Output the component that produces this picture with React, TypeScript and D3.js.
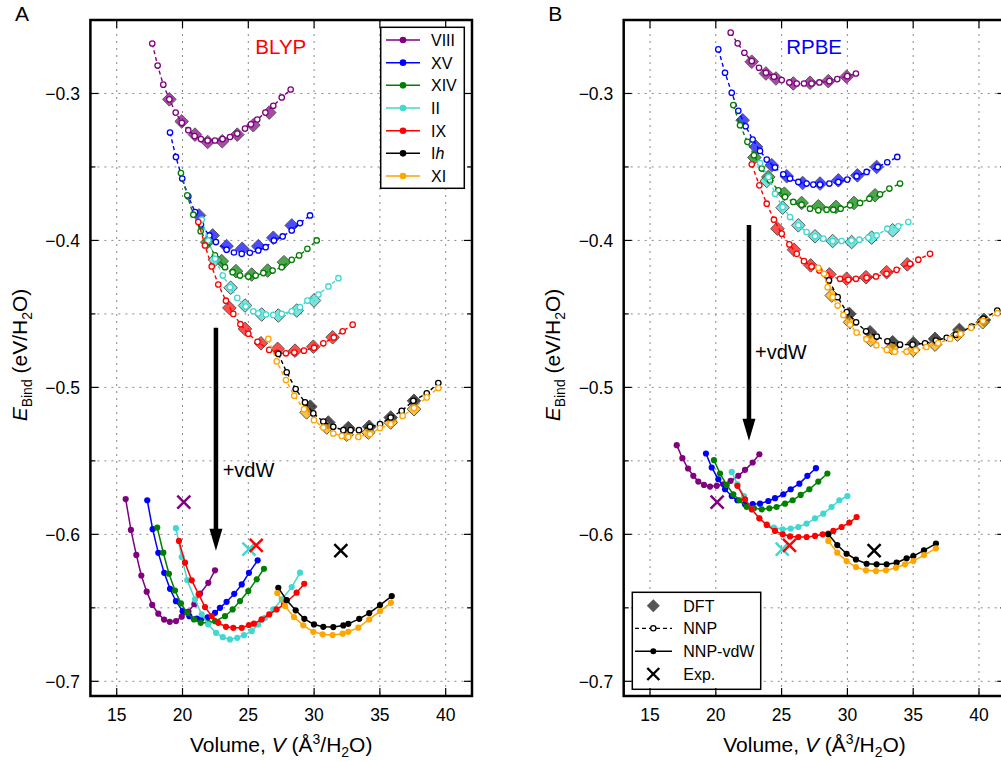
import React from 'react';
import * as d3 from 'd3';

type P = [number, number][];

const phases = ['VIII', 'XV', 'XIV', 'II', 'IX', 'Ih', 'XI'];
const phaseColors = ['#800080', '#0000ff', '#008000', '#40d8d0', '#ff0000', '#000000', '#ffa500'];
const xTickValues = [15, 20, 25, 30, 35, 40];
const yTickValues = [-0.7, -0.6, -0.5, -0.4, -0.3];
const yGridValues = [-0.7, -0.65, -0.6, -0.55, -0.5, -0.45, -0.4, -0.35, -0.3];

// Experimental values (same in both panels): [V, E]
const expVIII: P = [[20.1, -0.578]];
const expII: P = [[25.05, -0.610]];
const expIX: P = [[25.6, -0.6075]];
const expIh: P = [[32.03, -0.611]];

// ===== BLYP (panel A) =====
const blypDftVIII: P = [[19.0, -0.304], [19.94, -0.319], [20.95, -0.328], [21.91, -0.333], [23.02, -0.3325], [24.16, -0.328], [25.38, -0.3216], [26.59, -0.313]];
const blypDftXV: P = [[21.25, -0.383], [22.29, -0.3966], [23.35, -0.4039], [24.54, -0.4057], [25.76, -0.4039], [26.9, -0.3982], [28.3, -0.3898]];
const blypDftXIV: P = [[21.88, -0.4012], [22.98, -0.4141], [24.06, -0.4209], [25.26, -0.4232], [26.47, -0.4205], [27.71, -0.4148]];
const blypDftII: P = [[22.47, -0.4132], [23.66, -0.4322], [24.75, -0.4443], [26.02, -0.4504], [27.28, -0.4511], [28.68, -0.4477], [29.99, -0.4409]];
const blypDftIX: P = [[23.56, -0.4459], [24.75, -0.4602], [25.96, -0.47], [27.23, -0.4738], [28.55, -0.475], [29.94, -0.4723], [31.41, -0.4659]];
const blypDftIh: P = [[29.71, -0.5131], [31.08, -0.5239], [32.6, -0.5277], [34.19, -0.5268], [35.82, -0.5205], [37.59, -0.5091]];
const blypDftXI: P = [[29.43, -0.517], [30.96, -0.5273], [32.48, -0.5322], [34.12, -0.5307], [35.82, -0.5239], [37.59, -0.5148]];

const blypNnpVIII: P = [[17.7, -0.266], [18.11, -0.281], [18.54, -0.294], [19.0, -0.304], [19.48, -0.313], [19.95, -0.32], [20.44, -0.325], [20.92, -0.329], [21.4, -0.331], [21.91, -0.332], [22.47, -0.332], [23.04, -0.331], [23.61, -0.3296], [24.16, -0.3273], [24.75, -0.3239], [25.2, -0.321], [25.68, -0.3177], [26.3, -0.313], [26.9, -0.3084], [27.54, -0.3027], [28.22, -0.2973]];
const blypNnpXV: P = [[19.05, -0.3266], [19.5, -0.3432], [19.98, -0.3579], [20.44, -0.37], [20.95, -0.3807], [21.4, -0.3891], [22.04, -0.3966], [22.54, -0.4011], [23.35, -0.4063], [23.91, -0.4082], [24.5, -0.4091], [25.12, -0.4084], [25.76, -0.4068], [26.32, -0.4046], [26.95, -0.4], [27.61, -0.3973], [28.3, -0.3932], [28.93, -0.3882], [29.69, -0.383]];
const blypNnpXIV: P = [[19.88, -0.3541], [20.36, -0.3693], [20.82, -0.3825], [21.38, -0.3937], [21.91, -0.4012], [22.47, -0.4102], [23.23, -0.4182], [23.81, -0.4216], [24.37, -0.4239], [25.0, -0.4246], [25.56, -0.4239], [26.14, -0.4222], [26.85, -0.4205], [27.54, -0.4182], [28.3, -0.4132], [28.86, -0.4102], [29.49, -0.4057], [30.2, -0.4]];
const blypNnpII: P = [[21.46, -0.3859], [21.96, -0.4], [22.47, -0.4125], [23.06, -0.4239], [23.61, -0.4318], [24.16, -0.4391], [24.8, -0.445], [25.38, -0.4482], [25.76, -0.4496], [26.34, -0.4504], [26.9, -0.4507], [27.54, -0.45], [28.3, -0.4482], [28.93, -0.4454], [29.49, -0.4409], [30.33, -0.4368], [31.09, -0.4313], [31.85, -0.4257]];
const blypNnpIX: P = [[21.2, -0.3875], [21.71, -0.4034], [22.22, -0.4177], [22.72, -0.43], [23.3, -0.441], [23.86, -0.45], [24.4, -0.457], [25.0, -0.4635], [25.7, -0.469], [26.59, -0.4745], [27.2, -0.4765], [27.86, -0.4768], [28.5, -0.4763], [29.23, -0.475], [30.0, -0.473], [30.7, -0.47], [31.5, -0.466], [32.17, -0.4618], [32.93, -0.4573]];
const blypNnpIh: P = [[27.28, -0.4772], [27.92, -0.4897], [28.6, -0.5011], [29.31, -0.5102], [29.94, -0.5177], [30.7, -0.5232], [31.46, -0.5268], [32.22, -0.5291], [32.78, -0.5291], [33.41, -0.5291], [34.25, -0.5268], [35.01, -0.525], [35.82, -0.5205], [36.66, -0.516], [37.54, -0.5091], [38.56, -0.5041], [39.44, -0.497]];
const blypNnpXI: P = [[26.52, -0.467], [27.16, -0.4823], [27.86, -0.495], [28.49, -0.5057], [29.23, -0.5148], [29.99, -0.5223], [30.7, -0.5273], [31.46, -0.5314], [32.1, -0.533], [32.6, -0.5337], [33.36, -0.5337], [34.25, -0.5318], [35.01, -0.5277], [35.82, -0.525], [36.73, -0.5194], [37.59, -0.5141], [38.56, -0.5068], [39.44, -0.5004]];

const blypVdwVIII: P = [[15.68, -0.576], [16.08, -0.597], [16.49, -0.614], [16.87, -0.628], [17.28, -0.639], [17.7, -0.648], [18.16, -0.654], [18.6, -0.658], [19.03, -0.6595], [19.51, -0.659], [19.94, -0.656], [20.45, -0.6525], [20.9, -0.6475], [21.33, -0.6404], [21.96, -0.633], [22.47, -0.6245]];
const blypVdwXV: P = [[17.32, -0.5768], [17.73, -0.5965], [18.16, -0.6126], [18.61, -0.6262], [19.05, -0.6371], [19.5, -0.6455], [20.01, -0.6523], [20.52, -0.6557], [21.08, -0.6573], [21.46, -0.6573], [21.91, -0.6564], [22.47, -0.6534], [22.85, -0.65], [23.35, -0.6459], [23.93, -0.6405], [24.5, -0.6341], [25.05, -0.6262], [25.71, -0.6177]];
const blypVdwXIV: P = [[18.08, -0.5954], [18.54, -0.6125], [18.97, -0.6268], [19.43, -0.6382], [19.88, -0.647], [20.36, -0.6534], [20.87, -0.6579], [21.38, -0.6602], [21.96, -0.6602], [22.47, -0.6591], [23.23, -0.6557], [23.81, -0.6511], [24.37, -0.6454], [25.0, -0.6386], [25.64, -0.6306], [26.19, -0.6234]];
const blypVdwII: P = [[19.5, -0.5958], [19.94, -0.6154], [20.36, -0.6311], [20.95, -0.6443], [21.46, -0.6545], [21.96, -0.6613], [22.55, -0.667], [23.06, -0.67], [23.61, -0.6715], [24.16, -0.6704], [24.67, -0.6686], [25.26, -0.6659], [25.76, -0.6613], [26.27, -0.6568], [26.9, -0.6511], [27.54, -0.6443], [28.3, -0.6359], [28.93, -0.6261]];
const blypVdwIX: P = [[19.73, -0.6045], [20.19, -0.6193], [20.7, -0.6313], [21.23, -0.6408], [21.71, -0.6495], [22.22, -0.6556], [22.72, -0.6602], [23.3, -0.6629], [23.86, -0.6636], [24.5, -0.6636], [25.05, -0.6617], [25.43, -0.6608], [26.01, -0.6579], [26.59, -0.6545], [27.15, -0.6511], [27.71, -0.6477], [28.67, -0.6397], [29.25, -0.6336]];
const blypVdwIh: P = [[27.28, -0.6364], [27.92, -0.6448], [28.6, -0.6517], [29.26, -0.6575], [29.99, -0.6613], [30.7, -0.6629], [31.46, -0.6631], [32.22, -0.662], [32.6, -0.6609], [33.43, -0.6575], [34.19, -0.6536], [35.01, -0.6481], [35.9, -0.642]];
const blypVdwXI: P = [[27.2, -0.6399], [27.79, -0.6488], [28.47, -0.6563], [29.18, -0.6619], [29.94, -0.6663], [30.65, -0.668], [31.41, -0.6685], [32.17, -0.6676], [32.6, -0.6663], [33.36, -0.6635], [34.19, -0.6579], [35.01, -0.6522], [35.84, -0.6466]];

// ===== RPBE (panel B) =====
const rpbeDftVIII: P = [[22.73, -0.2784], [23.81, -0.2864], [24.57, -0.2898], [25.89, -0.2932], [27.16, -0.2927], [28.55, -0.2916], [29.94, -0.2886]];
const rpbeDftXV: P = [[22.04, -0.3182], [23.05, -0.3363], [24.25, -0.3488], [25.39, -0.3563], [26.6, -0.3609], [27.92, -0.3613], [29.31, -0.3591], [30.76, -0.3557], [32.22, -0.35]];
const rpbeDftXIV: P = [[22.93, -0.3436], [23.99, -0.3568], [25.21, -0.3682], [26.52, -0.3745], [27.79, -0.3768], [29.13, -0.3772], [30.5, -0.3745], [32.1, -0.3693]];
const rpbeDftII: P = [[23.87, -0.3595], [25.08, -0.3777], [26.27, -0.3897], [27.54, -0.3972], [28.88, -0.4004], [30.32, -0.4011], [31.84, -0.3981], [33.44, -0.3931]];
const rpbeDftIX: P = [[24.68, -0.392], [25.94, -0.4063], [27.21, -0.417], [28.63, -0.4231], [29.94, -0.4261], [31.41, -0.425], [32.98, -0.4216], [34.55, -0.4163]];
const rpbeDftIh: P = [[30.15, -0.45], [31.72, -0.4625], [33.44, -0.4693], [35.01, -0.47], [36.66, -0.467], [38.51, -0.4609], [40.38, -0.4541]];
const rpbeDftXI: P = [[28.81, -0.4375], [30.2, -0.4557], [31.77, -0.4677], [33.37, -0.4731], [35.01, -0.4745], [36.66, -0.4709], [38.36, -0.4641], [40.28, -0.4557]];

const rpbeNnpVIII: P = [[21.13, -0.2586], [21.66, -0.2659], [22.17, -0.2723], [22.73, -0.2779], [23.28, -0.2825], [23.81, -0.2859], [24.42, -0.2886], [25.01, -0.2909], [25.59, -0.2925], [26.15, -0.2932], [26.7, -0.2932], [27.28, -0.2932], [27.87, -0.2925], [28.63, -0.2916], [29.23, -0.2902], [29.99, -0.2882], [30.65, -0.2864]];
const rpbeNnpXV: P = [[20.19, -0.27], [20.7, -0.2859], [21.21, -0.2995], [21.71, -0.3118], [22.27, -0.3223], [22.8, -0.3313], [23.36, -0.3391], [23.87, -0.345], [24.5, -0.3504], [25.13, -0.355], [25.64, -0.3579], [26.27, -0.3602], [26.9, -0.3613], [27.41, -0.362], [27.92, -0.362], [28.63, -0.3613], [29.31, -0.3602], [29.99, -0.3586], [30.7, -0.3563], [31.46, -0.3534], [32.3, -0.35], [33.03, -0.3468], [33.79, -0.3432]];
const rpbeNnpXIV: P = [[21.33, -0.3079], [21.84, -0.3216], [22.4, -0.3329], [22.9, -0.342], [23.49, -0.3511], [24.12, -0.3591], [24.75, -0.3659], [25.26, -0.3704], [25.89, -0.3738], [26.52, -0.3757], [27.16, -0.3784], [27.79, -0.3795], [28.42, -0.3791], [28.93, -0.3791], [29.49, -0.3784], [30.2, -0.3761], [30.96, -0.3745], [31.67, -0.3716], [32.48, -0.3686], [33.19, -0.3647], [34.0, -0.3613]];
const rpbeNnpII: P = [[23.36, -0.3473], [24.0, -0.3568], [24.5, -0.3682], [25.08, -0.3772], [25.64, -0.3841], [26.27, -0.3897], [26.9, -0.3943], [27.54, -0.3972], [28.17, -0.3988], [28.88, -0.4004], [29.56, -0.4004], [30.32, -0.4], [30.91, -0.3995], [31.59, -0.3981], [32.22, -0.3966], [33.03, -0.392], [33.87, -0.3904], [34.63, -0.3875]];
const rpbeNnpIX: P = [[22.73, -0.3482], [23.31, -0.3625], [23.87, -0.375], [24.42, -0.3859], [25.01, -0.3954], [25.59, -0.4027], [26.15, -0.4091], [26.7, -0.4141], [27.28, -0.4177], [27.87, -0.4204], [28.42, -0.4238], [29.44, -0.4261], [30.07, -0.4268], [30.65, -0.4261], [31.46, -0.4254], [32.17, -0.4245], [32.98, -0.4227], [33.74, -0.42], [34.76, -0.4159], [35.39, -0.4131], [36.28, -0.4091]];
const rpbeNnpIh: P = [[28.6, -0.4272], [29.26, -0.4386], [29.95, -0.4488], [30.66, -0.4557], [31.42, -0.4618], [32.23, -0.4654], [33.04, -0.4686], [34.0, -0.4709], [34.96, -0.4709], [35.9, -0.47], [36.73, -0.4681], [37.54, -0.4663], [38.25, -0.4641], [39.44, -0.4586], [40.33, -0.4534], [41.39, -0.4477]];
const rpbeNnpXI: P = [[27.79, -0.4186], [28.22, -0.4227], [28.5, -0.4318], [28.88, -0.4386], [29.26, -0.4443], [29.7, -0.4508], [30.2, -0.4573], [30.7, -0.4627], [31.45, -0.4672], [32.2, -0.4713], [33.0, -0.4745], [33.6, -0.4757], [34.5, -0.4757], [35.2, -0.4747], [36.0, -0.4725], [36.9, -0.4699], [37.8, -0.467], [38.6, -0.4636], [39.4, -0.4595], [40.3, -0.4548], [41.4, -0.4495]];

const rpbeVdwVIII: P = [[17.03, -0.5393], [17.46, -0.5482], [17.89, -0.5552], [18.29, -0.5602], [18.67, -0.5641], [19.1, -0.5664], [19.56, -0.5675], [20.07, -0.567], [20.57, -0.5659], [21.13, -0.5636], [21.71, -0.5602], [22.22, -0.5561], [22.8, -0.5511], [23.31, -0.5455]];
const rpbeVdwXV: P = [[19.25, -0.545], [19.69, -0.5545], [20.19, -0.5625], [20.7, -0.5693], [21.21, -0.5739], [21.64, -0.5768], [22.22, -0.5795], [22.8, -0.5795], [23.36, -0.5791], [23.99, -0.5773], [24.5, -0.5754], [25.13, -0.5727], [25.69, -0.5693], [26.35, -0.5655], [26.96, -0.5602], [27.61, -0.555]];
const rpbeVdwXIV: P = [[19.86, -0.5495], [20.32, -0.5586], [20.83, -0.5664], [21.33, -0.5727], [21.79, -0.5768], [22.35, -0.5814], [22.9, -0.5823], [23.49, -0.583], [24.07, -0.5823], [24.62, -0.5814], [25.26, -0.5791], [25.84, -0.5768], [26.45, -0.5732], [27.11, -0.5693], [27.79, -0.5641], [28.48, -0.5586]];
const rpbeVdwII: P = [[21.21, -0.5575], [21.64, -0.5659], [22.14, -0.5739], [22.73, -0.583], [23.31, -0.5891], [23.87, -0.5932], [24.42, -0.5954], [25.08, -0.5966], [25.69, -0.5961], [26.27, -0.595], [26.9, -0.5927], [27.54, -0.5891], [28.17, -0.5859], [28.8, -0.5814], [29.39, -0.5768], [30.0, -0.5739]];
const rpbeVdwIX: P = [[21.64, -0.567], [22.22, -0.5761], [22.73, -0.583], [23.31, -0.5891], [23.87, -0.5936], [24.5, -0.5977], [25.08, -0.6], [25.64, -0.6014], [26.27, -0.6018], [26.9, -0.6018], [27.54, -0.6011], [28.12, -0.6], [28.55, -0.5995], [28.93, -0.5977], [29.56, -0.595], [30.15, -0.592], [30.7, -0.5882]];
const rpbeVdwIh: P = [[28.55, -0.6], [29.23, -0.6073], [29.94, -0.6132], [30.65, -0.6171], [31.46, -0.62], [32.22, -0.6204], [32.98, -0.6204], [33.74, -0.6193], [34.5, -0.6163], [35.01, -0.6148], [35.82, -0.6109], [36.73, -0.6063]];
const rpbeVdwXI: P = [[28.55, -0.6045], [29.23, -0.6125], [29.94, -0.6182], [30.65, -0.6223], [31.41, -0.6245], [32.17, -0.625], [32.93, -0.6245], [33.69, -0.6227], [34.38, -0.6204], [35.01, -0.6182], [35.82, -0.6141], [36.73, -0.6095]];

const blypDft = [blypDftVIII, blypDftXV, blypDftXIV, blypDftII, blypDftIX, blypDftIh, blypDftXI];
const blypNnp = [blypNnpVIII, blypNnpXV, blypNnpXIV, blypNnpII, blypNnpIX, blypNnpIh, blypNnpXI];
const blypVdw = [blypVdwVIII, blypVdwXV, blypVdwXIV, blypVdwII, blypVdwIX, blypVdwIh, blypVdwXI];
const rpbeDft = [rpbeDftVIII, rpbeDftXV, rpbeDftXIV, rpbeDftII, rpbeDftIX, rpbeDftIh, rpbeDftXI];
const rpbeNnp = [rpbeNnpVIII, rpbeNnpXV, rpbeNnpXIV, rpbeNnpII, rpbeNnpIX, rpbeNnpIh, rpbeNnpXI];
const rpbeVdw = [rpbeVdwVIII, rpbeVdwXV, rpbeVdwXIV, rpbeVdwII, rpbeVdwIX, rpbeVdwIh, rpbeVdwXI];
const expPoints = [
  { pts: expVIII, color: '#800080' },
  { pts: expII, color: '#40d8d0' },
  { pts: expIX, color: '#ff0000' },
  { pts: expIh, color: '#000000' },
];

const xDomain = [13, 42];
const yDomain = [-0.71, -0.25];
const TOP = 20;
const BOTTOM = 696;
const FONT = 'Liberation Sans, Arial, Helvetica, sans-serif';

const fmtY = (v: number) => '\u2212' + Math.abs(v).toFixed(1);

function diamondPath(s: number) {
  return `M0,${-s}L${s},0L0,${s}L${-s},0Z`;
}

function XMark({ cx, cy, s, color, w }: { cx: number; cy: number; s: number; color: string; w: number }) {
  return (
    <g stroke={color} strokeWidth={w}>
      <line x1={cx - s} y1={cy - s} x2={cx + s} y2={cy + s} />
      <line x1={cx - s} y1={cy + s} x2={cx + s} y2={cy - s} />
    </g>
  );
}

type PanelProps = {
  left: number;
  right: number;
  dft: P[];
  nnp: P[];
  vdw: P[];
  title: string;
  titleColor: string;
  letter: string;
  arrowX: number;
  arrowFrom: number;
  arrowTo: number;
  vdwLabel: [number, number];
  legend: 'phases' | 'methods';
};

function Panel(p: PanelProps) {
  const x = d3.scaleLinear().domain(xDomain).range([p.left, p.right]);
  const y = d3.scaleLinear().domain(yDomain).range([BOTTOM, TOP]);
  const line = d3.line<[number, number]>().x((d) => x(d[0])).y((d) => y(d[1]));
  const w = p.right - p.left;
  const ax = x(p.arrowX);
  const aTop = y(p.arrowFrom);
  const aTip = y(p.arrowTo);

  return (
    <g fontFamily={FONT}>
      {/* grid */}
      <g stroke="#8a8a8a" strokeWidth={1} strokeDasharray="2,5">
        {xTickValues.map((t) => (
          <line key={'gx' + t} x1={x(t)} x2={x(t)} y1={TOP} y2={BOTTOM} />
        ))}
        {yGridValues.map((t) => (
          <line key={'gy' + t} x1={p.left} x2={p.right} y1={y(t)} y2={y(t)} />
        ))}
      </g>

      {/* DFT diamonds */}
      {p.dft.map((s, i) => (
        <g key={'dft' + i}>
          {s.map((d, j) => (
            <path
              key={j}
              d={diamondPath(6.8)}
              transform={`translate(${x(d[0])},${y(d[1])})`}
              fill={phaseColors[i]}
              fillOpacity={0.7}
              stroke="#555"
              strokeWidth={1}
            />
          ))}
        </g>
      ))}

      {/* NNP dashed + open circles */}
      {p.nnp.map((s, i) => (
        <g key={'nnp' + i}>
          <path d={line(s) || ''} fill="none" stroke={phaseColors[i]} strokeWidth={1.4} strokeDasharray="4,3" />
          {s.map((d, j) => (
            <circle key={j} cx={x(d[0])} cy={y(d[1])} r={2.7} fill="#fff" stroke={phaseColors[i]} strokeWidth={1.3} />
          ))}
        </g>
      ))}

      {/* NNP-vdW solid + filled dots */}
      {p.vdw.map((s, i) => (
        <g key={'vdw' + i}>
          <path d={line(s) || ''} fill="none" stroke={phaseColors[i]} strokeWidth={1.5} />
          {s.map((d, j) => (
            <circle key={j} cx={x(d[0])} cy={y(d[1])} r={3.1} fill={phaseColors[i]} />
          ))}
        </g>
      ))}

      {/* experiment */}
      {expPoints.map((e, i) =>
        e.pts.map((d, j) => <XMark key={i + '-' + j} cx={x(d[0])} cy={y(d[1])} s={6.5} color={e.color} w={2.5} />)
      )}

      {/* arrow */}
      <line x1={ax} x2={ax} y1={aTop} y2={aTip - 18} stroke="#000" strokeWidth={4.5} />
      <path d={`M${ax - 6.5},${aTip - 22}L${ax + 6.5},${aTip - 22}L${ax},${aTip}Z`} fill="#000" />
      <text x={p.vdwLabel[0]} y={p.vdwLabel[1]} fontSize={20} fill="#000">+vdW</text>

      {/* title */}
      <text x={p.left + w * 0.499} y={54} fontSize={20.5} fill={p.titleColor} textAnchor="middle">
        {p.title}
      </text>

      {/* legends */}
      {p.legend === 'phases' && (
        <g>
          <rect x={380.7} y={27.3} width={83.6} height={161} fill="#fff" stroke="#000" strokeWidth={1.5} />
          {phases.map((ph, i) => {
            const ly = 40 + i * 22.67;
            return (
              <g key={ph}>
                <line x1={386} x2={420} y1={ly} y2={ly} stroke={phaseColors[i]} strokeWidth={1.5} />
                <circle cx={403} cy={ly} r={3.3} fill={phaseColors[i]} />
                <text x={431} y={ly + 6} fontSize={16} fill="#000">
                  {ph === 'Ih' ? (
                    <>
                      I<tspan fontStyle="italic">h</tspan>
                    </>
                  ) : (
                    ph
                  )}
                </text>
              </g>
            );
          })}
        </g>
      )}
      {p.legend === 'methods' && (
        <g>
          <rect x={632.3} y={592.3} width={128.4} height={97} fill="#fff" stroke="#000" strokeWidth={1.5} />
          <path d={diamondPath(6.5)} transform="translate(653.3,605.7)" fill="#555" />
          <text x={683.3} y={611.7} fontSize={16}>DFT</text>
          <line x1={635} x2={672} y1={628.3} y2={628.3} stroke="#000" strokeWidth={1.3} strokeDasharray="4,3" />
          <circle cx={653.3} cy={628.3} r={2.6} fill="#fff" stroke="#000" strokeWidth={1.3} />
          <text x={683.3} y={634.3} fontSize={16}>NNP</text>
          <line x1={635} x2={672} y1={651.3} y2={651.3} stroke="#000" strokeWidth={1.4} />
          <circle cx={653.3} cy={651.3} r={3} fill="#000" />
          <text x={683.3} y={657.3} fontSize={16}>NNP-vdW</text>
          <XMark cx={653.3} cy={674} s={6} color="#000" w={2.4} />
          <text x={683.3} y={680} fontSize={16}>Exp.</text>
        </g>
      )}

      {/* frame & ticks */}
      <g stroke="#000" strokeWidth={1.2}>
        {xTickValues.map((t) => (
          <g key={'tx' + t}>
            <line x1={x(t)} x2={x(t)} y1={BOTTOM} y2={BOTTOM - 8} />
            <line x1={x(t)} x2={x(t)} y1={TOP} y2={TOP + 8} />
          </g>
        ))}
        {yGridValues.map((t, i) => {
          const len = i % 2 === 0 ? 8 : 5;
          return (
            <g key={'ty' + t}>
              <line x1={p.left} x2={p.left + len} y1={y(t)} y2={y(t)} />
              <line x1={p.right} x2={p.right - len} y1={y(t)} y2={y(t)} />
            </g>
          );
        })}
      </g>
      <rect x={p.left} y={TOP} width={w} height={BOTTOM - TOP} fill="none" stroke="#000" strokeWidth={2.5} />

      {/* tick labels */}
      {xTickValues.map((t) => (
        <text key={'lx' + t} x={x(t)} y={720.5} fontSize={17.5} textAnchor="middle" fill="#000">
          {t}
        </text>
      ))}
      {yTickValues.map((t) => (
        <text key={'ly' + t} x={p.left - 10.5} y={y(t) + 6.2} fontSize={17.5} textAnchor="end" fill="#000">
          {fmtY(t)}
        </text>
      ))}

      {/* axis labels */}
      <text x={p.left + w / 2} y={752} fontSize={21} textAnchor="middle" fill="#000">
        Volume, <tspan fontStyle="italic">V</tspan> (Å
        <tspan dy={-8} fontSize={14}>3</tspan>
        <tspan dy={8}>/H</tspan>
        <tspan dy={5} fontSize={14}>2</tspan>
        <tspan dy={-5}>O)</tspan>
      </text>
      <text transform={`translate(${p.left - 63.5},${(TOP + BOTTOM) / 2 - 3}) rotate(-90)`} fontSize={21} textAnchor="middle" fill="#000">
        <tspan fontStyle="italic">E</tspan>
        <tspan dy={5} fontSize={14}>Bind</tspan>
        <tspan dy={-5}> (eV/H</tspan>
        <tspan dy={5} fontSize={14}>2</tspan>
        <tspan dy={-5}>O)</tspan>
      </text>

      {/* panel letter */}
      <text x={p.left - 75.5} y={20.5} fontSize={21} fill="#000">
        {p.letter}
      </text>
    </g>
  );
}

export default function App() {
  return (
    <svg
      width={1001}
      height={761}
      viewBox="0 0 1001 761"
      style={{ position: 'absolute', left: 0, top: 0, background: '#fff', display: 'block' }}
    >
      <rect x={0} y={0} width={1001} height={761} fill="#fff" />
      <Panel
        left={90.4}
        right={472}
        dft={blypDft}
        nnp={blypNnp}
        vdw={blypVdw}
        title="BLYP"
        titleColor="#ff0000"
        letter="A"
        arrowX={22.54}
        arrowFrom={-0.4594}
        arrowTo={-0.6111}
        vdwLabel={[222.7, 477]}
        legend="phases"
      />
      <Panel
        left={623.7}
        right={1005.3}
        dft={rpbeDft}
        nnp={rpbeNnp}
        vdw={rpbeVdw}
        title="RPBE"
        titleColor="#0000ff"
        letter="B"
        arrowX={22.52}
        arrowFrom={-0.3895}
        arrowTo={-0.5363}
        vdwLabel={[755, 359]}
        legend="methods"
      />
    </svg>
  );
}
